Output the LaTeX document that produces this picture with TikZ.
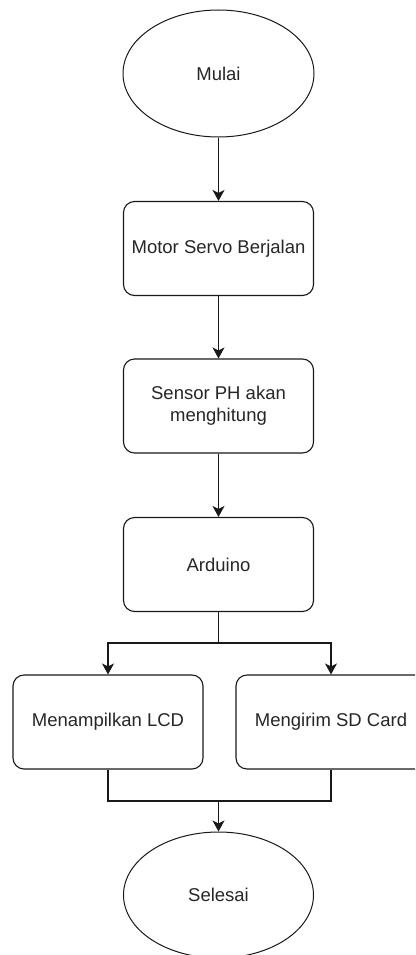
\documentclass[tikz,border=0pt]{standalone}
\usepackage{fontspec}
\setmainfont{Liberation Sans}
\usetikzlibrary{shapes.geometric,arrows.meta}
\begin{document}
\begin{tikzpicture}[x=1pt,y=-1pt,
  every node/.style={font=\fontsize{18.5}{22}\selectfont, text=black!85, align=center, inner sep=0pt},
  term/.style={ellipse, draw=black!90, line width=1pt, minimum width=191pt, minimum height=127pt},
  proc/.style={rectangle, rounded corners=11pt, draw=black!90, line width=1.1pt, minimum width=190pt, minimum height=94pt},
  flow/.style={line width=1.1pt, draw=black!90, -{Stealth[length=11pt,width=12pt,inset=3pt]}},
  link/.style={line width=1.1pt, draw=black!90}
]
\useasboundingbox (0,0) rectangle (415,955);
\clip (0,0) rectangle (415,955);
\node[term] (mulai) at (218.5,73.5) {Mulai};
\node[proc] (motor) at (218.5,248.5) {Motor Servo Berjalan};
\node[proc] (sensor) at (218.5,406) {Sensor PH akan\\menghitung};
\node[proc] (arduino) at (218.5,564.5) {Arduino};
\node[proc] (lcd) at (108,722) {Menampilkan LCD};
\node[proc] (sd) at (331,722) {Mengirim SD Card};
\node[term, minimum width=190pt, minimum height=126pt] (selesai) at (218.5,895) {Selesai};
\coordinate (split) at (218.5,643);
\coordinate (join) at (218.5,801);
\draw[flow] (mulai) -- (motor);
\draw[flow] (motor) -- (sensor);
\draw[flow] (sensor) -- (arduino);
\draw[link] (arduino.south) -- (split);
\draw[flow] (split) -| (lcd.north);
\draw[flow] (split) -| (sd.north);
\draw[link] (lcd.south) |- (join);
\draw[link] (sd.south) |- (join);
\draw[flow] (join) -- (selesai.north);
\end{tikzpicture}
\end{document}
